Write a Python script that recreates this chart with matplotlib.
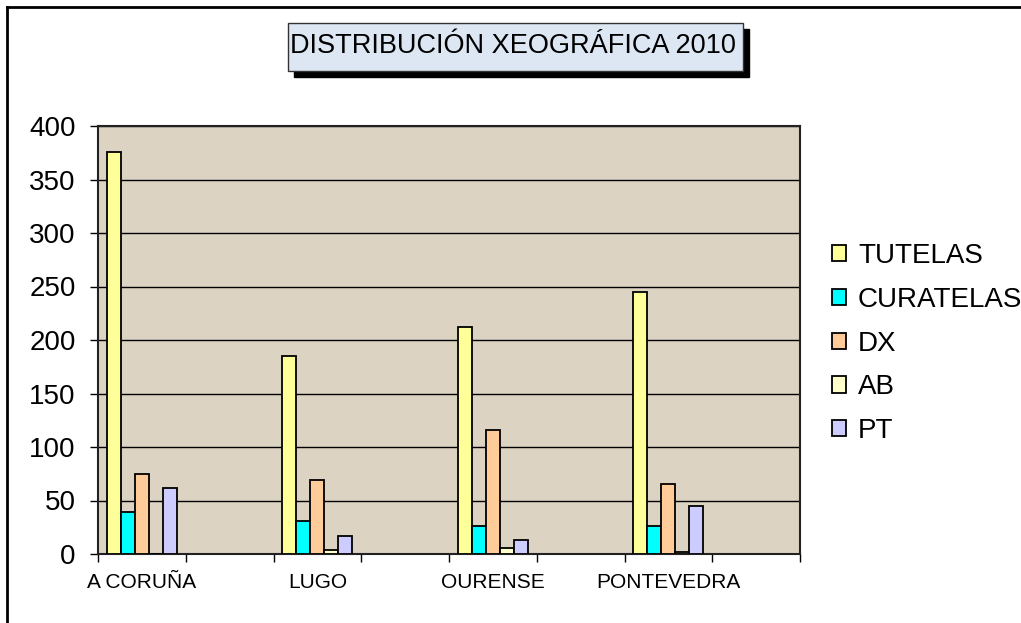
import numpy as np
import matplotlib
matplotlib.use("Agg")
import matplotlib.pyplot as plt
from matplotlib.patches import Rectangle
from matplotlib.lines import Line2D

# ==============================
# DATA
# ==============================

provinces = ["A CORUÑA", "LUGO", "OURENSE", "PONTEVEDRA"]
series_names = ["TUTELAS", "CURATELAS", "DX", "AB", "PT"]

tutelas = [376, 185, 212, 245]
curatelas = [39, 31, 26, 26]
dx = [75, 69, 116, 65]
ab = [0, 4, 6, 2]
pt = [62, 17, 13, 45]

colors = ["#ffff99", "#00ffff", "#ffcc99", "#ffffcc", "#ccccff"]

# ==============================
# PLOT
# ==============================

plt.rcParams["font.family"] = ["Liberation Sans", "DejaVu Sans"]

fig = plt.figure(figsize=(10.21, 6.23), dpi=100)
W, H = 1021, 623
ax = fig.add_axes([98 / W, 1 - 554 / H, (800 - 98) / W, (554 - 126) / H])
ax.set_facecolor("#dcd3c2")

# categories sit on every other slot (Excel-style empty slots between)
x = np.arange(len(provinces)) * 2
bar_w = 0.159
all_series = [tutelas, curatelas, dx, ab, pt]
for j, (name, vals, col) in enumerate(zip(series_names, all_series, colors)):
    offs = (j - 2) * bar_w
    ax.bar(x + offs, vals, width=bar_w, color=col, edgecolor="black",
           linewidth=1.3, label=name, zorder=3)

ax.set_xlim(-0.5, 7.5)
ax.set_ylim(0, 400)
ax.set_yticks(np.arange(0, 401, 50))
ax.yaxis.grid(True, color="black", linewidth=1.0, zorder=1)
ax.set_axisbelow(True)

ax.set_xticks(np.arange(-0.5, 7.6, 1.0))
ax.set_xticklabels([])
ax.set_xticks(x, minor=True)
ax.set_xticklabels(provinces, minor=True, fontsize=15)
ax.tick_params(axis="x", which="major", direction="out", length=6, width=1)
ax.tick_params(axis="x", which="minor", length=0, pad=14)
ax.tick_params(axis="y", direction="out", length=6, width=1, labelsize=20, pad=10)

for s in ax.spines.values():
    s.set_color("#222222")
    s.set_linewidth(1.5)

# legend
leg = ax.legend(loc="upper left", bbox_to_anchor=(832 / W, 1 - 243 / H),
                bbox_transform=fig.transFigure, frameon=False, fontsize=20,
                handlelength=0.52, handleheight=0.52, handletextpad=0.42,
                labelspacing=0.64, borderaxespad=0, borderpad=0)

# title box with shadow
fig.patches.append(Rectangle((294 / W, 1 - 77 / H), (455 / W), (48 / H),
                             transform=fig.transFigure, facecolor="black",
                             edgecolor="black", zorder=1))
fig.patches.append(Rectangle((288 / W, 1 - 71 / H), (455 / W), (48 / H),
                             transform=fig.transFigure, facecolor="#dce7f3",
                             edgecolor="#333333", linewidth=1, zorder=2))
fig.text(513 / W, 1 - 46 / H, "DISTRIBUCIÓN XEOGRÁFICA 2010", fontsize=19.5,
         ha="center", va="center", zorder=3)

# outer frame (top and left edges visible)
fig.lines.append(Line2D([6.5 / W, 6.5 / W], [0, 1 - 6.5 / H],
                        transform=fig.transFigure, color="black", linewidth=2))
fig.lines.append(Line2D([6.5 / W, 1], [1 - 6.5 / H, 1 - 6.5 / H],
                        transform=fig.transFigure, color="black", linewidth=2))

fig.savefig("out.png", dpi=100)
